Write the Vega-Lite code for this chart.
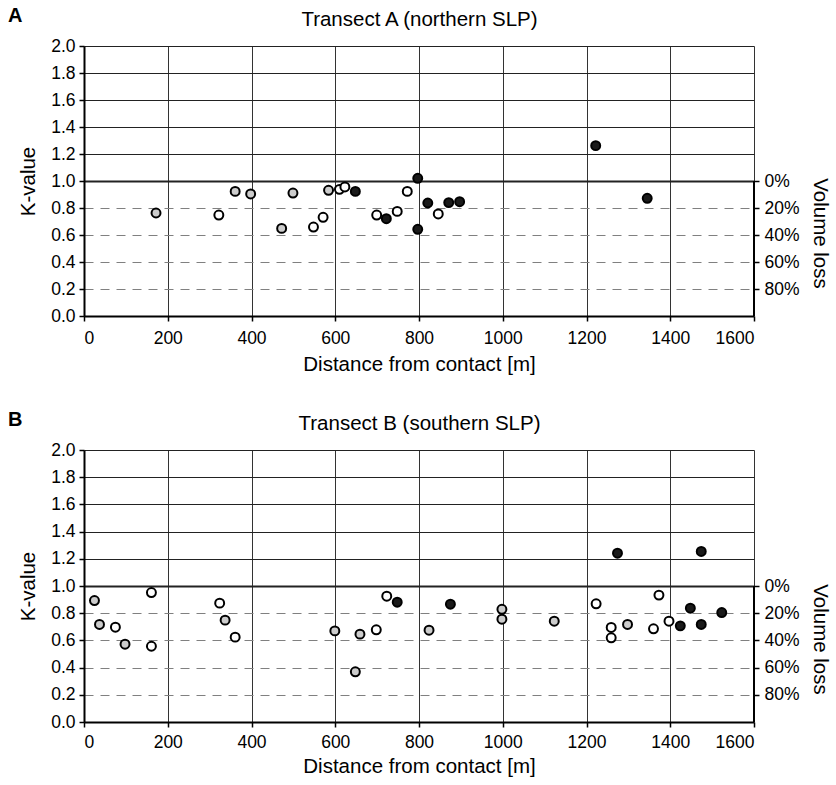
{
  "$schema": "https://vega.github.io/schema/vega-lite/v6.json",
  "background": "white",
  "padding": {"left": 8, "top": 6, "right": 5, "bottom": 2},
  "spacing": 35,
  "config": {
    "font": "Liberation Sans",
    "view": {"stroke": null},
    "axis": {
      "labelFont": "Liberation Sans", "labelFontSize": 17.5, "labelColor": "black",
      "titleFont": "Liberation Sans", "titleFontSize": 20.5, "titleFontWeight": "normal", "titleColor": "black",
      "domainColor": "black", "domainWidth": 2, "tickColor": "black", "tickWidth": 1.5, "tickSize": 5
    },
    "title": {"font": "Liberation Sans", "fontSize": 20, "fontWeight": "bold", "color": "black", "anchor": "start", "frame": "group", "offset": 0, "dx": -76, "dy": 21}
  },
  "datasets": {
    "A": [
      {"d": 172, "k": 0.763, "type": "gray"},
      {"d": 322, "k": 0.748, "type": "white"},
      {"d": 361, "k": 0.923, "type": "gray"},
      {"d": 398, "k": 0.904, "type": "gray"},
      {"d": 472, "k": 0.649, "type": "gray"},
      {"d": 499, "k": 0.911, "type": "gray"},
      {"d": 548, "k": 0.659, "type": "white"},
      {"d": 571, "k": 0.731, "type": "white"},
      {"d": 584, "k": 0.931, "type": "gray"},
      {"d": 610, "k": 0.938, "type": "white"},
      {"d": 623, "k": 0.956, "type": "white"},
      {"d": 648, "k": 0.923, "type": "black"},
      {"d": 699, "k": 0.748, "type": "white"},
      {"d": 722, "k": 0.721, "type": "black"},
      {"d": 748, "k": 0.775, "type": "white"},
      {"d": 772, "k": 0.923, "type": "white"},
      {"d": 797, "k": 1.02, "type": "black"},
      {"d": 797, "k": 0.642, "type": "black"},
      {"d": 821, "k": 0.837, "type": "black"},
      {"d": 846, "k": 0.756, "type": "white"},
      {"d": 871, "k": 0.84, "type": "black"},
      {"d": 897, "k": 0.847, "type": "black"},
      {"d": 1222, "k": 1.262, "type": "black"},
      {"d": 1345, "k": 0.872, "type": "black"}
    ],
    "B": [
      {"d": 25, "k": 0.893, "type": "gray"},
      {"d": 37, "k": 0.717, "type": "gray"},
      {"d": 75, "k": 0.697, "type": "white"},
      {"d": 98, "k": 0.572, "type": "gray"},
      {"d": 161, "k": 0.952, "type": "white"},
      {"d": 161, "k": 0.557, "type": "white"},
      {"d": 324, "k": 0.874, "type": "white"},
      {"d": 337, "k": 0.749, "type": "gray"},
      {"d": 361, "k": 0.624, "type": "white"},
      {"d": 599, "k": 0.67, "type": "gray"},
      {"d": 648, "k": 0.369, "type": "gray"},
      {"d": 659, "k": 0.646, "type": "gray"},
      {"d": 698, "k": 0.678, "type": "white"},
      {"d": 723, "k": 0.925, "type": "white"},
      {"d": 748, "k": 0.881, "type": "black"},
      {"d": 824, "k": 0.675, "type": "gray"},
      {"d": 875, "k": 0.866, "type": "black"},
      {"d": 998, "k": 0.829, "type": "gray"},
      {"d": 998, "k": 0.756, "type": "gray"},
      {"d": 1123, "k": 0.741, "type": "gray"},
      {"d": 1223, "k": 0.869, "type": "white"},
      {"d": 1259, "k": 0.695, "type": "white"},
      {"d": 1259, "k": 0.619, "type": "white"},
      {"d": 1274, "k": 1.241, "type": "black"},
      {"d": 1298, "k": 0.717, "type": "gray"},
      {"d": 1360, "k": 0.685, "type": "white"},
      {"d": 1373, "k": 0.933, "type": "white"},
      {"d": 1397, "k": 0.741, "type": "white"},
      {"d": 1424, "k": 0.707, "type": "black"},
      {"d": 1448, "k": 0.837, "type": "black"},
      {"d": 1474, "k": 1.254, "type": "black"},
      {"d": 1474, "k": 0.717, "type": "black"},
      {"d": 1523, "k": 0.805, "type": "black"}
    ]
  },
  "vconcat": [
    {
      "width": 670, "height": 270,
      "title": {"text": "A"},
      "data": {"name": "A"},
      "layer": [
        {
          "mark": {"type": "point", "filled": true, "shape": "circle", "size": 80, "stroke": "black", "strokeWidth": 2, "opacity": 1},
          "encoding": {
            "x": {"field": "d", "type": "quantitative", "scale": {"domain": [0, 1600], "nice": false},
              "axis": {"orient": "bottom", "title": "Distance from contact [m]", "values": [0, 200, 400, 600, 800, 1000, 1200, 1400, 1600], "format": "d", "grid": true, "gridColor": "#333333", "gridWidth": 1, "labelPadding": 8, "titlePadding": 8}},
            "y": {"field": "k", "type": "quantitative", "scale": {"domain": [0, 2], "nice": false},
              "axis": {"orient": "left", "title": "K-value", "values": [0, 0.2, 0.4, 0.6, 0.8, 1, 1.2, 1.4, 1.6, 1.8, 2], "format": ".1f", "grid": true,
                "gridColor": {"condition": {"test": "datum.value < 0.99", "value": "#808080"}, "value": "#222222"},
                "gridDash": {"condition": {"test": "datum.value < 0.99", "value": [9, 7]}, "value": []},
                "gridWidth": {"condition": {"test": "abs(datum.value - 1) < 0.001", "value": 2}, "value": 1},
                "labelPadding": 4, "titlePadding": 12}},
            "fill": {"field": "type", "type": "nominal", "scale": {"domain": ["black", "gray", "white"], "range": ["#1a1a1a", "#cccccc", "#ffffff"]}, "legend": null}
          }
        },
        {
          "mark": {"type": "rule", "strokeWidth": 2, "color": "black"},
          "encoding": {
            "x": {"datum": 1600, "type": "quantitative",
              "axis": {"orient": "top", "title": "Transect A (northern SLP)", "labels": false, "ticks": false, "domain": false, "grid": false,
                "titleBaseline": "middle", "titleY": -27}},
            "y": {"datum": 0, "type": "quantitative",
              "axis": {"orient": "right", "title": "Volume loss", "values": [0.2, 0.4, 0.6, 0.8, 1], "labelExpr": "format((1 - datum.value) * 100, '.0f') + '%'", "domain": false, "grid": false, "labelPadding": 5, "titlePadding": 10, "titleY": 187}},
            "y2": {"datum": 1}
          }
        }
      ],
      "resolve": {"axis": {"x": "independent", "y": "independent"}}
    },
    {
      "width": 670, "height": 272,
      "title": {"text": "B"},
      "data": {"name": "B"},
      "layer": [
        {
          "mark": {"type": "point", "filled": true, "shape": "circle", "size": 80, "stroke": "black", "strokeWidth": 2, "opacity": 1},
          "encoding": {
            "x": {"field": "d", "type": "quantitative", "scale": {"domain": [0, 1600], "nice": false},
              "axis": {"orient": "bottom", "title": "Distance from contact [m]", "values": [0, 200, 400, 600, 800, 1000, 1200, 1400, 1600], "format": "d", "grid": true, "gridColor": "#333333", "gridWidth": 1, "labelPadding": 6, "titlePadding": 6}},
            "y": {"field": "k", "type": "quantitative", "scale": {"domain": [0, 2], "nice": false},
              "axis": {"orient": "left", "title": "K-value", "values": [0, 0.2, 0.4, 0.6, 0.8, 1, 1.2, 1.4, 1.6, 1.8, 2], "format": ".1f", "grid": true,
                "gridColor": {"condition": {"test": "datum.value < 0.99", "value": "#808080"}, "value": "#222222"},
                "gridDash": {"condition": {"test": "datum.value < 0.99", "value": [9, 7]}, "value": []},
                "gridWidth": {"condition": {"test": "abs(datum.value - 1) < 0.001", "value": 2}, "value": 1},
                "labelPadding": 4, "titlePadding": 12}},
            "fill": {"field": "type", "type": "nominal", "scale": {"domain": ["black", "gray", "white"], "range": ["#1a1a1a", "#cccccc", "#ffffff"]}, "legend": null}
          }
        },
        {
          "mark": {"type": "rule", "strokeWidth": 2, "color": "black"},
          "encoding": {
            "x": {"datum": 1600, "type": "quantitative",
              "axis": {"orient": "top", "title": "Transect B (southern SLP)", "labels": false, "ticks": false, "domain": false, "grid": false,
                "titleBaseline": "middle", "titleY": -27}},
            "y": {"datum": 0, "type": "quantitative",
              "axis": {"orient": "right", "title": "Volume loss", "values": [0.2, 0.4, 0.6, 0.8, 1], "labelExpr": "format((1 - datum.value) * 100, '.0f') + '%'", "domain": false, "grid": false, "labelPadding": 5, "titlePadding": 10, "titleY": 189}},
            "y2": {"datum": 1}
          }
        }
      ],
      "resolve": {"axis": {"x": "independent", "y": "independent"}}
    }
  ]
}
